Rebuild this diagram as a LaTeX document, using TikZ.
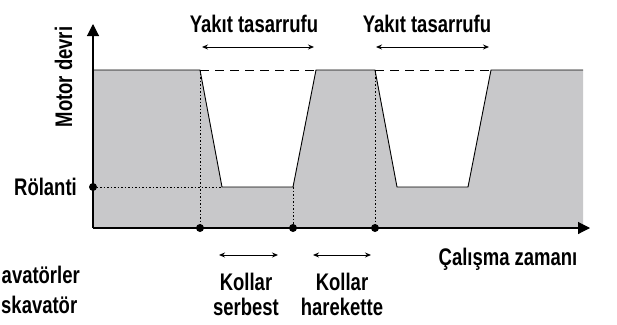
\documentclass[tikz,border=0pt]{standalone}
\usepackage{fontspec}
\setmainfont[FakeStretch=0.77]{Liberation Sans}
\usetikzlibrary{arrows.meta}
\definecolor{fillgray}{RGB}{200,200,202}
\tikzset{
  lbl/.style={font=\fontsize{24}{27}\selectfont\bfseries, inner sep=0pt, anchor=base},
  plotline/.style={line width=0.9pt, line join=miter},
  guide/.style={line width=0.9pt, dash pattern=on 1.5pt off 2pt},
  topdash/.style={line width=0.9pt, dash pattern=on 9pt off 6pt},
  dotmark/.style={circle, fill=black, inner sep=0pt, minimum size=8pt},
  dblarrow/.style={line width=0.9pt, {Stealth[length=6pt,width=5pt]}-{Stealth[length=6pt,width=5pt]}},
  axis/.style={line width=1.1pt, -{Triangle[length=12pt,width=12pt]}}
}
\begin{document}
\begin{tikzpicture}[x=1pt,y=-1pt]
\useasboundingbox (0,0) rectangle (617,324);
% key points
\coordinate (O) at (93,228);
\coordinate (T0) at (93,70);
\coordinate (A1) at (200,70);
\coordinate (B1) at (222,187);
\coordinate (C1) at (293,187);
\coordinate (D1) at (316,70);
\coordinate (A2) at (375,70);
\coordinate (B2) at (397,187);
\coordinate (C2) at (468,187);
\coordinate (D2) at (491,70);
\coordinate (E) at (583,70);
\coordinate (F) at (583,228);
% gray area
\fill[fillgray] (T0) -- (A1) -- (B1) -- (C1) -- (D1) -- (A2) -- (B2) -- (C2) -- (D2) -- (E) -- (F) -- (O) -- cycle;
\draw[plotline] (T0) -- (A1) -- (B1) -- (C1) -- (D1) -- (A2) -- (B2) -- (C2) -- (D2) -- (E);
\draw[topdash] (A1) -- (D1);
\draw[topdash] (A2) -- (D2);
% dots
\node[dotmark] (p1) at (200,228) {};
\node[dotmark] (p2) at (293,228) {};
\node[dotmark] (p3) at (375,228) {};
\node[dotmark] (pr) at (93,187) {};
% guides
\draw[guide] (A1) -- (p1.center);
\draw[guide] (C1) -- (p2.center);
\draw[guide] (A2) -- (p3.center);
\draw[guide] (pr.center) -- (B1);
% axes
\coordinate (ytip) at (93,24);
\coordinate (xtip) at (590,228);
\draw[axis] (O) -- (ytip);
\draw[axis] (O) -- (xtip);
% top arrows
\coordinate (ya1) at (202,47);
\coordinate (yb1) at (314,47);
\coordinate (ya2) at (376,47);
\coordinate (yb2) at (489,47);
\draw[dblarrow] (ya1) -- (yb1);
\draw[dblarrow] (ya2) -- (yb2);
% lower arrows
\coordinate (ka1) at (219,255);
\coordinate (kb1) at (278,255);
\coordinate (ka2) at (313,255);
\coordinate (kb2) at (371,255);
\draw[dblarrow] (ka1) -- (kb1);
\draw[dblarrow] (ka2) -- (kb2);
% labels
\node[lbl] (yt1) at (254,32) {Yakıt tasarrufu};
\node[lbl] (yt2) at (427,32) {Yakıt tasarrufu};
\node[lbl] (k1) at (246,290) {Kollar};
\node[lbl] (s1) at (246,315) {serbest};
\node[lbl] (k2) at (342,290) {Kollar};
\node[lbl] (h2) at (342,315) {harekette};
\node[lbl] (cz) at (508,265) {Çalışma zamanı};
\node[lbl, anchor=base east] (rl) at (77,195) {Rölanti};
\node[lbl, rotate=90, anchor=base] (md) at (72,77) {Motor devri};
\node[lbl, anchor=base east] (ex1) at (80,283) {avatörler};
\node[lbl, anchor=base west] (ex2) at (1,313) {skavatör};
\end{tikzpicture}
\end{document}
